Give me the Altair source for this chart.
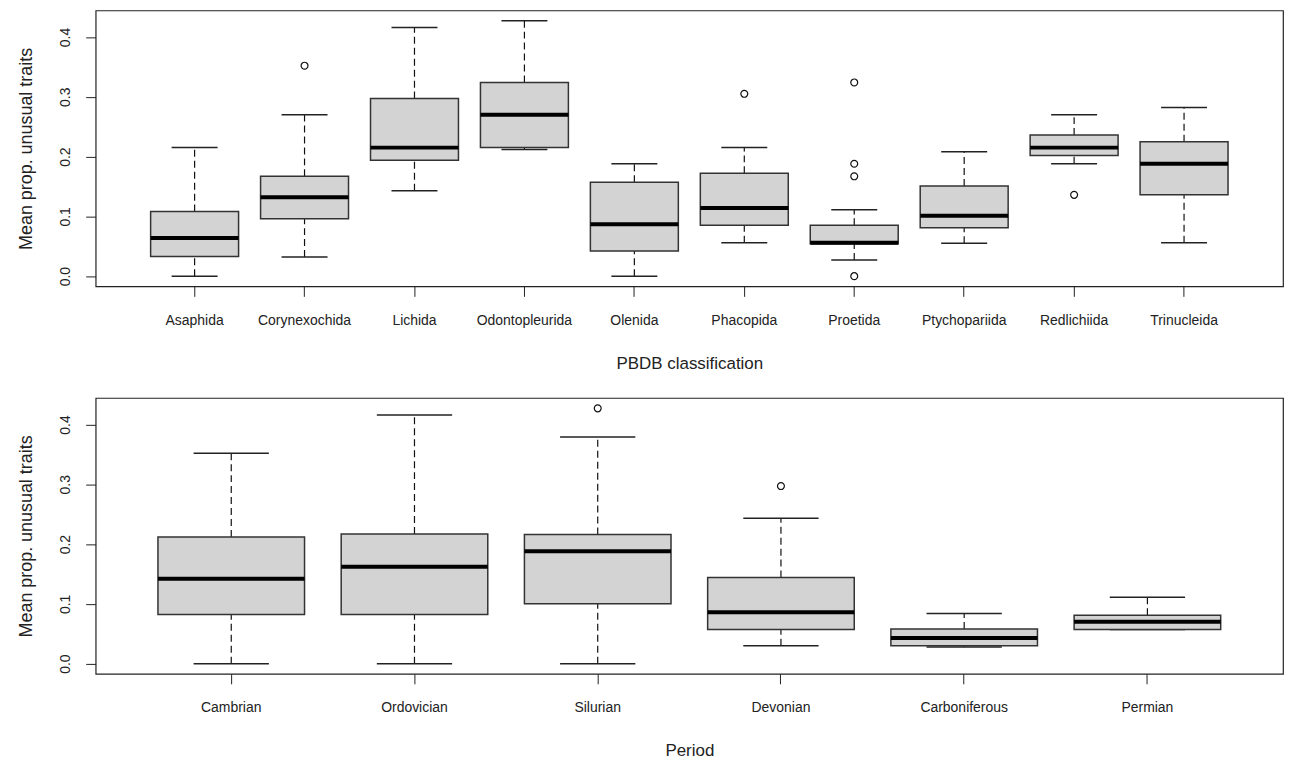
import altair as alt
import pandas as pd

# ---- top panel: PBDB classification ----
orders = ["Asaphida", "Corynexochida", "Lichida", "Odontopleurida", "Olenida",
          "Phacopida", "Proetida", "Ptychopariida", "Redlichiida", "Trinucleida"]
ord_lower = [0.000, 0.032, 0.143, 0.212, 0.000, 0.056, 0.027, 0.055, 0.188, 0.056]
ord_q1    = [0.033, 0.096, 0.194, 0.215, 0.042, 0.085, 0.054, 0.081, 0.202, 0.136]
ord_med   = [0.064, 0.132, 0.215, 0.270, 0.087, 0.114, 0.056, 0.101, 0.215, 0.188]
ord_q3    = [0.108, 0.167, 0.297, 0.324, 0.157, 0.172, 0.085, 0.151, 0.236, 0.225]
ord_upper = [0.215, 0.270, 0.416, 0.427, 0.188, 0.215, 0.111, 0.208, 0.270, 0.282]
ord_out_cat = ["Corynexochida", "Phacopida", "Proetida", "Proetida", "Proetida",
               "Proetida", "Redlichiida"]
ord_out_val = [0.352, 0.305, 0.324, 0.188, 0.167, 0.000, 0.136]

# ---- bottom panel: Period ----
periods = ["Cambrian", "Ordovician", "Silurian", "Devonian", "Carboniferous", "Permian"]
per_lower = [0.000, 0.000, 0.000, 0.030, 0.028, 0.057]
per_q1    = [0.082, 0.082, 0.100, 0.057, 0.030, 0.057]
per_med   = [0.142, 0.162, 0.188, 0.086, 0.043, 0.070]
per_q3    = [0.212, 0.217, 0.216, 0.144, 0.058, 0.081]
per_upper = [0.352, 0.416, 0.379, 0.243, 0.084, 0.111]
per_out_cat = ["Silurian", "Devonian"]
per_out_val = [0.427, 0.297]

y_ticks = [0.0, 0.1, 0.2, 0.3, 0.4]
y_title = "Mean prop. unusual traits"

FONT = "Liberation Sans"
TXT = "#222222"
W = 1192
H = 277


def panel(cats, lo, q1, med, q3, hi, out_cat, out_val, xtitle):
    n = len(cats)
    po = (0.08 * n + 0.2) / 2
    step = W / (1.08 * n)
    band = 0.8 * step
    cap = 0.4 * step + 2

    df = pd.DataFrame({"cat": cats, "lo": lo, "q1": q1, "med": med, "q3": q3, "hi": hi})
    dout = pd.DataFrame({"cat": out_cat, "val": out_val})

    xscale = alt.Scale(domain=cats, paddingInner=0.2, paddingOuter=po)
    xaxis = alt.Axis(labelAngle=0, title=xtitle, domain=False, tickSize=10,
                     tickColor=TXT, labelPadding=17, titlePadding=28,
                     labelFontSize=14, titleFontSize=17, labelFont=FONT,
                     titleFont=FONT, titleFontWeight="normal",
                     labelColor=TXT, titleColor=TXT)
    yscale = alt.Scale(domain=[-0.0171, 0.4444], nice=False, zero=False)
    yaxis = alt.Axis(values=y_ticks, format=".1f", title=y_title, domain=False,
                     grid=False, tickSize=10, tickColor=TXT, labelAngle=-90,
                     labelAlign="center", labelBaseline="bottom", labelPadding=13,
                     titlePadding=23, labelFontSize=14, titleFontSize=18,
                     labelFont=FONT, titleFont=FONT, titleFontWeight="normal",
                     labelColor=TXT, titleColor=TXT)

    X = alt.X("cat:N", sort=cats, scale=xscale, axis=xaxis)

    base = alt.Chart(df)
    w_lo = base.mark_rule(color="#111", strokeWidth=1.2, strokeDash=[7, 4]).encode(
        x=X, y=alt.Y("lo:Q", scale=yscale, axis=yaxis), y2="q1:Q")
    w_hi = base.mark_rule(color="#111", strokeWidth=1.2, strokeDash=[7, 4]).encode(
        x=X, y=alt.Y("q3:Q", scale=yscale, axis=yaxis), y2="hi:Q")
    c_lo = base.mark_tick(color="#222", size=cap, thickness=1.5, opacity=1).encode(
        x=X, y=alt.Y("lo:Q", scale=yscale, axis=yaxis))
    c_hi = base.mark_tick(color="#222", size=cap, thickness=1.5, opacity=1).encode(
        x=X, y=alt.Y("hi:Q", scale=yscale, axis=yaxis))
    box = base.mark_bar(color="#d3d3d3", stroke="#333", strokeWidth=1.5, opacity=1).encode(
        x=X, y=alt.Y("q1:Q", scale=yscale, axis=yaxis), y2="q3:Q")
    medl = base.mark_tick(color="#000", size=band, thickness=4, opacity=1).encode(
        x=X, y=alt.Y("med:Q", scale=yscale, axis=yaxis))
    outl = alt.Chart(dout).mark_point(shape="circle", filled=False, color="#111",
                                      size=48, strokeWidth=1.2, opacity=1).encode(
        x=X, y=alt.Y("val:Q", scale=yscale, axis=yaxis))

    return alt.layer(w_lo, w_hi, c_lo, c_hi, box, medl, outl).properties(width=W, height=H)


top = panel(orders, ord_lower, ord_q1, ord_med, ord_q3, ord_upper,
            ord_out_cat, ord_out_val, "PBDB classification")
bottom = panel(periods, per_lower, per_q1, per_med, per_q3, per_upper,
               per_out_cat, per_out_val, "Period")

chart = alt.vconcat(top, bottom, spacing=25).properties(
    padding={"left": 9, "top": 0, "right": 0, "bottom": 0},
    background="white",
).configure_view(stroke="#222", strokeWidth=1.2)

chart.save("out.html", embed_options={"renderer": "svg", "actions": False})
